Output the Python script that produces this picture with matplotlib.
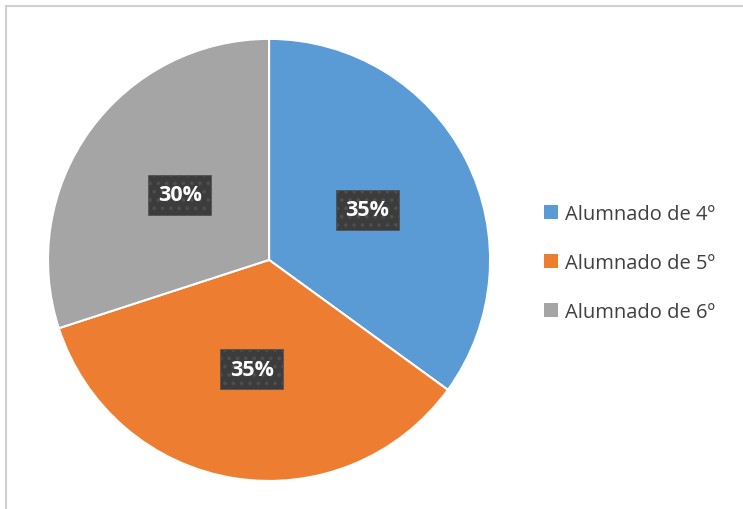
import matplotlib.pyplot as plt
from matplotlib.lines import Line2D
from matplotlib.patches import Patch

labels = ['Alumnado de 4º', 'Alumnado de 5º', 'Alumnado de 6º']
values = [35, 35, 30]
colors = ['#5B9BD5', '#ED7D31', '#A5A5A5']

plt.rcParams['font.family'] = ['Open Sans', 'DejaVu Sans']
plt.rcParams['hatch.linewidth'] = 1.5

fig = plt.figure(figsize=(7.43, 5.10), dpi=100)
ax = fig.add_axes([0.0646, 0.0549, 0.595, 0.867])

wedges, texts, autotexts = ax.pie(
    values, colors=colors, startangle=90, counterclock=False,
    autopct='%1.0f%%', pctdistance=0.5,
    wedgeprops=dict(edgecolor='white', linewidth=1.5))
ax.set_aspect('equal')
ax.set_xlim(-1, 1)
ax.set_ylim(-1, 1)

for t in autotexts:
    t.set_color('white')
    t.set_fontweight('bold')
    t.set_fontsize(15.5)
    t.set_bbox(dict(boxstyle='square,pad=0.45', facecolor='#3c3c3c',
                    edgecolor='#4e4e4e', hatch='..', linewidth=0.5))

handles = [Patch(facecolor=c, edgecolor='none') for c in colors]
fig.legend(handles, labels, loc='center left', bbox_to_anchor=(0.708, 0.482),
           frameon=False, fontsize=14.5, labelspacing=1.45,
           handlelength=0.7, handleheight=0.7, handletextpad=0.35,
           labelcolor='#404040')

# chart frame lines (top and left)
fig.add_artist(Line2D([6 / 743, 1], [1 - 7 / 510, 1 - 7 / 510],
                      transform=fig.transFigure, color='#d0d0d0', linewidth=1.5))
fig.add_artist(Line2D([6 / 743, 6 / 743], [0, 1 - 7 / 510],
                      transform=fig.transFigure, color='#d0d0d0', linewidth=1.5))

fig.savefig('out.png', dpi=100)
